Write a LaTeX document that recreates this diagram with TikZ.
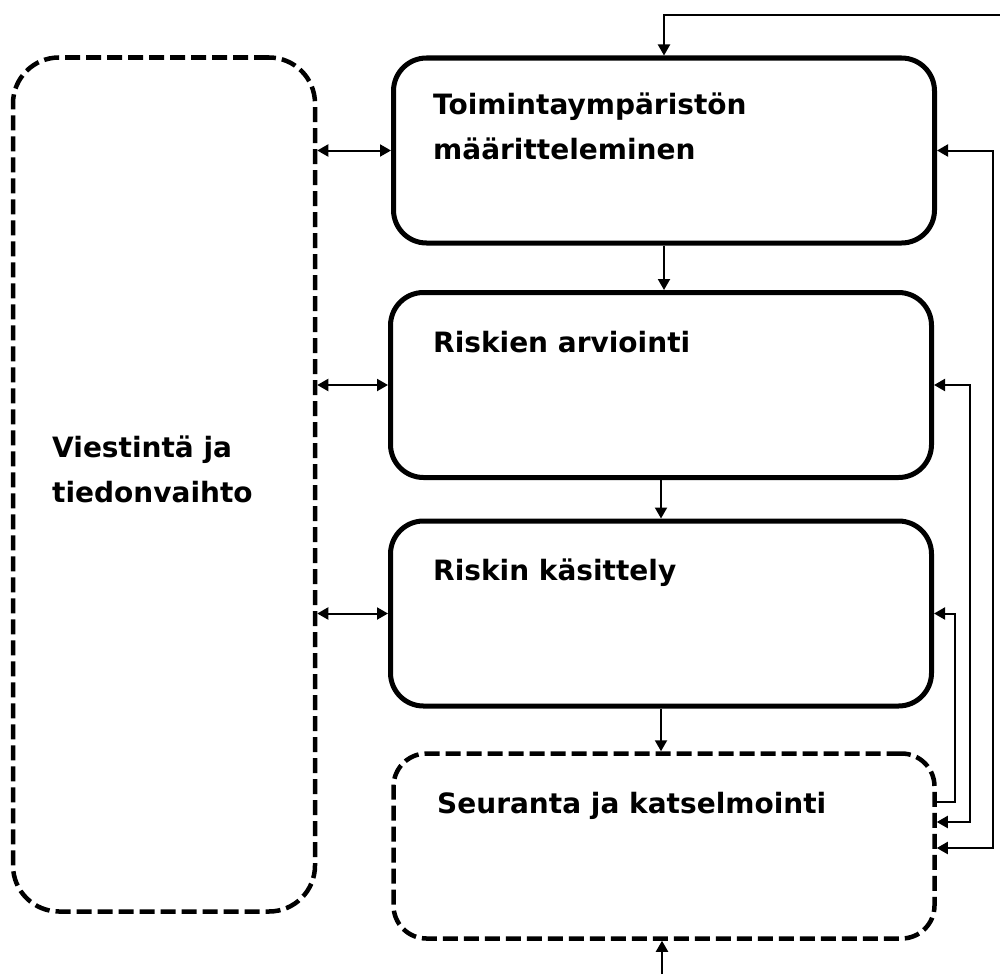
\documentclass[tikz,border=0pt]{standalone}
\usepackage{fontspec}
\setmainfont{DejaVu Sans}
\usetikzlibrary{arrows.meta}

\begin{document}
\begin{tikzpicture}[x=1pt, y=-1pt,
  >={Triangle[length=11pt,width=12pt]},
  stage/.style={draw, line width=5pt, rounded corners=33pt,
    minimum width=541pt, minimum height=185pt, inner sep=0pt},
  dstage/.style={stage, line width=4.5pt, dash pattern=on 15pt off 6pt},
  side/.style={draw, line width=4.5pt, dash pattern=on 15pt off 6pt,
    rounded corners=46pt, minimum width=302pt, minimum height=854pt, inner sep=0pt},
  conn/.style={line width=2pt},
  txt/.style={font=\fontsize{28}{45}\selectfont\bfseries, align=left, inner sep=0pt, anchor=base west}]

  \useasboundingbox (0,0) rectangle (1000,974);

  % boxes
  \node[side]   (L)  at (164,484.5) {};
  \node[stage]  (B1) at (664,150.5) {};
  \node[stage]  (B2) at (661,385)   {};
  \node[stage]  (B3) at (661,613.5) {};
  \node[dstage] (B4) at (664,846)   {};

  % labels (a multi-line label sits on the baseline of its last line)
  \node[txt] (tL)  at (52,502)  {Viestintä ja\\tiedonvaihto};
  \node[txt] (t1)  at (433,159) {Toimintaympäristön\\määritteleminen};
  \node[txt] (t2)  at (433,352) {Riskien arviointi};
  \node[txt] (t3)  at (433,580) {Riskin käsittely};
  \node[txt] (t4)  at (437,813) {Seuranta ja katselmointi};

  % free ends
  \coordinate (topin) at (1000,15);
  \coordinate (botin) at (662,974);

  % main flow
  \draw[conn,->] (topin) -| (B1.north);
  \draw[conn,->] (B1.south) -- (B1.south |- B2.north);
  \draw[conn,->] (B2.south) -- (B2.south |- B3.north);
  \draw[conn,->] (B3.south) -- (B3.south |- B4.north);
  \draw[conn,->] (botin) -- (botin |- B4.south);

  % communication links
  \draw[conn,<->] (L.east |- B1.west) -- (B1.west);
  \draw[conn,<->] (L.east |- B2.west) -- (B2.west);
  \draw[conn,<->] (L.east |- B3.west) -- (B3.west);

  % feedback loops from monitoring
  \draw[conn,->]  ([yshift=44pt]B4.east) -- ++(18,0) |- (B3.east);
  \draw[conn,<->] (B2.east) -- ++(36,0) |- ([yshift=24pt]B4.east);
  \draw[conn,<->] (B1.east) -- ++(56,0) |- ([yshift=-2pt]B4.east);
\end{tikzpicture}
\end{document}
